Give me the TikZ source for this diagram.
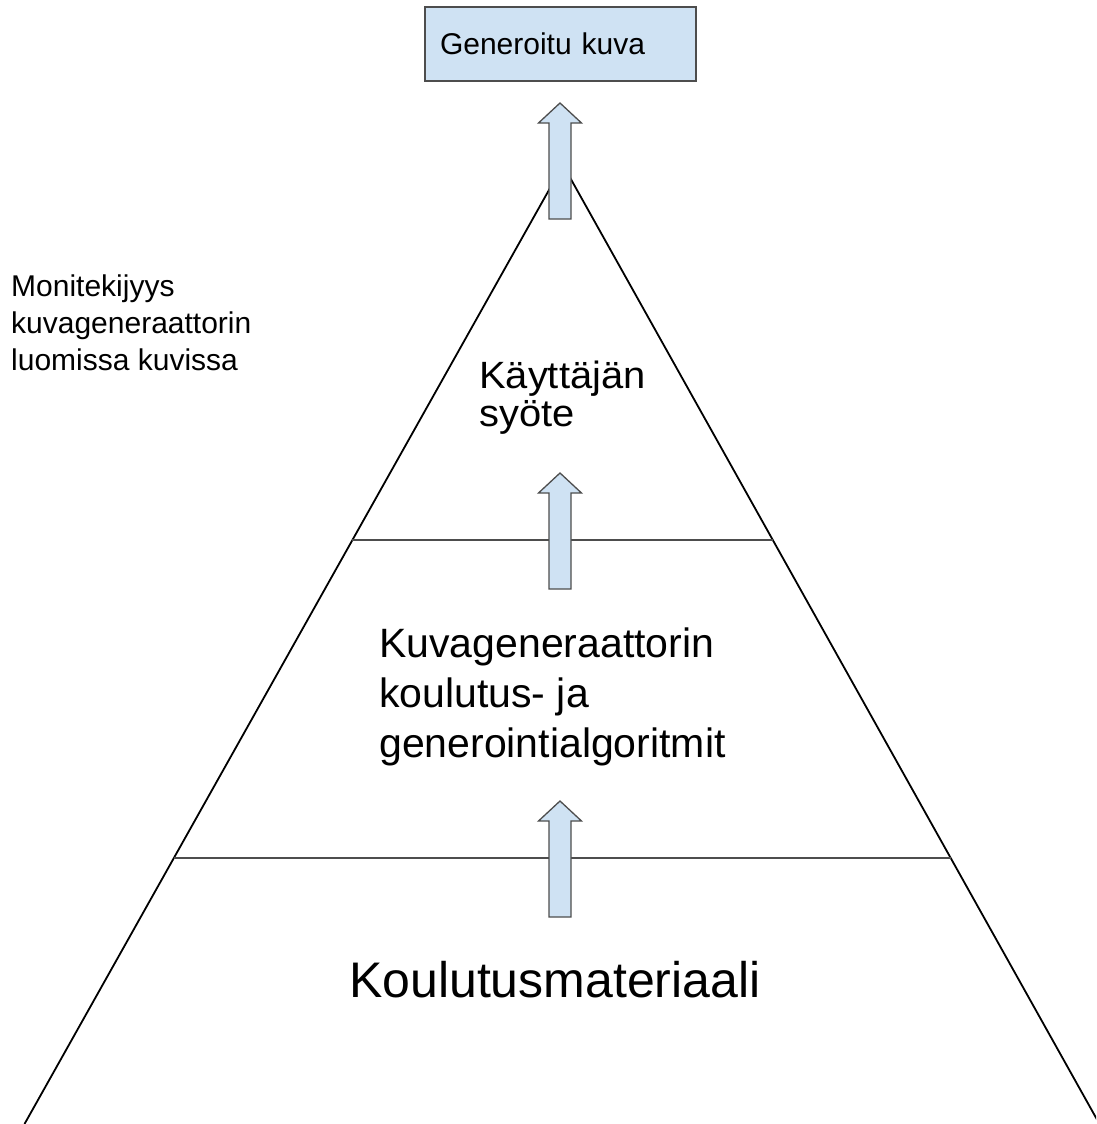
\documentclass[tikz,border=0pt]{standalone}
\usepackage{fontspec}
\setmainfont{Liberation Sans}
\newfontfamily\largefont[FakeStretch=1.05]{Liberation Sans}
\usetikzlibrary{calc}

\definecolor{bleu}{HTML}{CFE2F3}
\definecolor{gris}{HTML}{4D4D4D}

\tikzset{
  fleche/.pic={\draw[gris, fill=bleu, line width=1.3pt, line join=miter]
    (0,0) -- (21.5,20) -- (11,20) -- (11,116) -- (-11,116) -- (-11,20) -- (-21.5,20) -- cycle;},
  texte/.style={anchor=base west, inner sep=0pt, align=left},
  boite/.style={draw=gris, fill=bleu, line width=1.3pt, minimum height=74pt,
    text width=241pt, inner xsep=15pt, inner ysep=0pt, align=left,
    font=\fontsize{30}{36}\selectfont},
}

\begin{document}
\begin{tikzpicture}[x=1pt, y=-1pt]
    \useasboundingbox (0,0) rectangle (1096,1124);

    % Triangle et niveaux
    \coordinate (sommet) at (563,165);
    \coordinate (gauche) at (24.5,1124);
    \coordinate (droite) at (1099.5,1124);
    \coordinate (g1) at ($(sommet)!0.391!(gauche)$);
    \coordinate (d1) at ($(sommet)!0.391!(droite)$);
    \coordinate (g2) at ($(sommet)!0.7226!(gauche)$);
    \coordinate (d2) at ($(sommet)!0.7226!(droite)$);
    \begin{scope}
        \clip (0,0) rectangle (1096,1124);
        \draw[line width=1.8pt] (gauche) -- (sommet) -- (droite);
    \end{scope}
    \draw[gris, line width=2pt] (g1) -- (d1);
    \draw[gris, line width=2pt] (g2) -- (d2);

    % Textes
    \node[boite] (image) at (560.5,44) {Generoitu kuva};
    \node[texte, font=\fontsize{30}{37}\selectfont] (auteurs) at (11,370)
        {Monitekijyys\\kuvageneraattorin\\luomissa kuvissa};
    \node[texte, font=\largefont\fontsize{38}{38}\selectfont] (syote) at (479,426)
        {Käyttäjän\\syöte};
    \node[texte, font=\fontsize{41}{50}\selectfont] (algoritmit) at (379,757)
        {Kuvageneraattorin\\koulutus- ja\\generointialgoritmit};
    \node[texte, font=\fontsize{50}{60}\selectfont] (materiaali) at (349,997)
        {Koulutusmateriaali};

    % Flèches
    \pic at (560,103) {fleche};
    \pic at (560,473) {fleche};
    \pic at (560,801) {fleche};

\end{tikzpicture}
\end{document}
